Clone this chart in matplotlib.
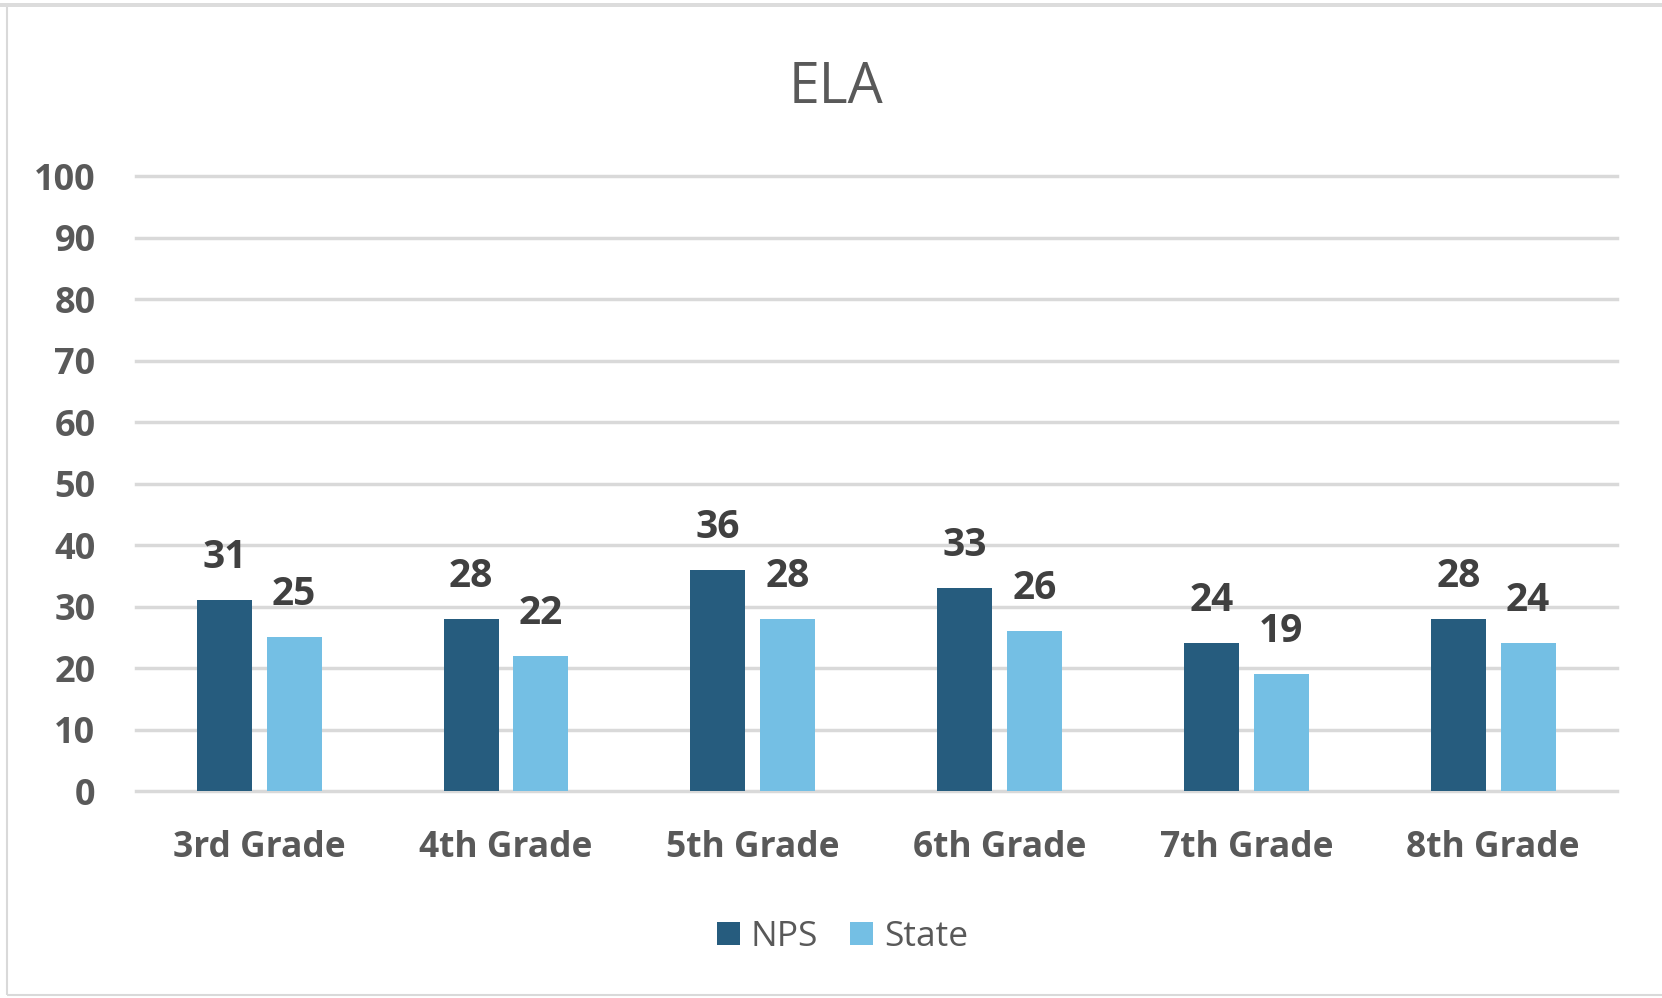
import numpy as np
import matplotlib.pyplot as plt
from matplotlib.patches import Rectangle

# --- data ---
grades = ["3rd Grade", "4th Grade", "5th Grade", "6th Grade", "7th Grade", "8th Grade"]
nps = [31, 28, 36, 33, 24, 28]
state = [25, 22, 28, 26, 19, 24]
series_names = ["NPS", "State"]

dark_blue = "#265C7E"
light_blue = "#74BFE4"
tick_grey = "#595959"
label_grey = "#404040"

plt.rcParams['font.family'] = ['Open Sans', 'DejaVu Sans']

fig = plt.figure(figsize=(16.62, 9.98), dpi=100)
ax = fig.add_axes([0.0817, 0.2074, 0.891, 0.6162])

# light frame around the chart area
fig.patches.append(Rectangle((7 / 1662, 3 / 998), 1.2, 990 / 998, transform=fig.transFigure,
                             facecolor="none", edgecolor="#D9D9D9", linewidth=1.5))
fig.patches.append(Rectangle((0, 991 / 998), 1, 4 / 998, transform=fig.transFigure,
                             facecolor="#DCDCDC", edgecolor="none"))

x = np.arange(len(grades))
w = 0.223
off = w / 2 + 0.03
b1 = ax.bar(x - off, nps, w, color=dark_blue, label=series_names[0], zorder=3)
b2 = ax.bar(x + off, state, w, color=light_blue, label=series_names[1], zorder=3)

for bars in (b1, b2):
    for r in bars:
        ax.annotate(f"{r.get_height():.0f}", (r.get_x() + r.get_width() / 2, r.get_height()),
                    xytext=(0, 23), textcoords="offset points", ha="center", va="baseline",
                    fontsize=28, fontweight="bold", color=label_grey)

ax.set_xlim(-0.5, len(grades) - 0.5)
ax.set_ylim(0, 100)
ax.set_yticks(range(0, 101, 10))
ax.set_xticks(x)
ax.set_xticklabels(grades)
ax.yaxis.grid(True, color="#D9D9D9", linewidth=2.5, zorder=0)
for gl in ax.get_ygridlines():
    gl.set_clip_on(False)
ax.set_axisbelow(True)
for s in ax.spines.values():
    s.set_visible(False)
ax.tick_params(axis="y", length=0, pad=29, labelsize=26, labelcolor=tick_grey)
ax.tick_params(axis="x", length=0, pad=28, labelsize=25.5, labelcolor=tick_grey)
for lab in ax.get_xticklabels() + ax.get_yticklabels():
    lab.set_fontweight("bold")

fig.text(0.503, 1 - 103 / 998, "ELA", ha="center", va="baseline", fontsize=40, color=tick_grey)

leg = fig.legend(handles=[b1, b2], loc="center", bbox_to_anchor=(0.507, 1 - 937 / 998), ncol=2,
                 frameon=False, fontsize=25.5, handlelength=0.65, handleheight=0.65,
                 handletextpad=0.3, columnspacing=0.9)
for t in leg.get_texts():
    t.set_color(tick_grey)

fig.savefig("out.png", dpi=100)
